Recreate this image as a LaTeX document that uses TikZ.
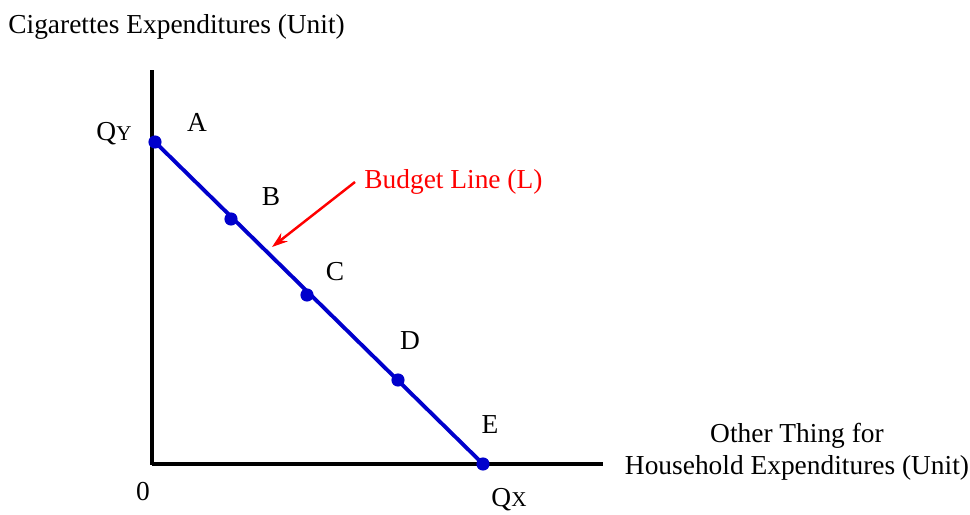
\documentclass[tikz,border=0pt]{standalone}
\usepackage{fontspec}
\setmainfont{Liberation Serif}
\usetikzlibrary{arrows.meta}
\begin{document}
\begin{tikzpicture}[x=0.02cm,y=-0.02cm,
  axis/.style={line width=2.2pt,black},
  budget/.style={line width=2.2pt,blue!80!black},
  dot/.style={circle,fill=blue!80!black,inner sep=0pt,minimum size=7.5pt},
  lbl/.style={font=\fontsize{15.6}{18}\selectfont,inner sep=0pt},
  pointer/.style={red,line width=1.4pt,-{Stealth[length=9pt,width=6pt]}}]
\useasboundingbox (0,0) rectangle (970,514);
\coordinate (yt) at (152,70);
\coordinate (o) at (152,464);
\coordinate (xr) at (603,464);
\draw[axis] (yt) -- (152,465) ;
\draw[axis] (o) -- (xr);
\node[dot] (A) at (155,142) {};
\node[dot] (B) at (231,219) {};
\node[dot] (C) at (307,295) {};
\node[dot] (D) at (398,380) {};
\node[dot] (E) at (483,464) {};
\draw[budget] (A.center) -- (E.center);
\node[lbl] (lA) at (197,122) {A};
\node[lbl] (lB) at (271,197) {B};
\node[lbl] (lC) at (335,272) {C};
\node[lbl] (lD) at (410,341) {D};
\node[lbl] (lE) at (490,425) {E};
\node[lbl] (qy) at (114,134) {Q{\fontsize{12}{14}\selectfont Y}};
\node[lbl] (qx) at (509,500) {Q{\fontsize{12}{14}\selectfont X}};
\node[lbl] (zero) at (143,492) {0};
\node[lbl,red,anchor=west] (bl) at (364,182) {Budget Line (L)};
\coordinate (tip) at (272,247);
\draw[pointer] (bl.west) ++(-9,0) coordinate (bs) -- (tip);
\node[lbl,anchor=west] (ylab) at (8,27) {Cigarettes Expenditures (Unit)};
\node[lbl,align=center] (xlab) at (797,452) {Other Thing for\\Household Expenditures (Unit)};
\end{tikzpicture}
\end{document}
